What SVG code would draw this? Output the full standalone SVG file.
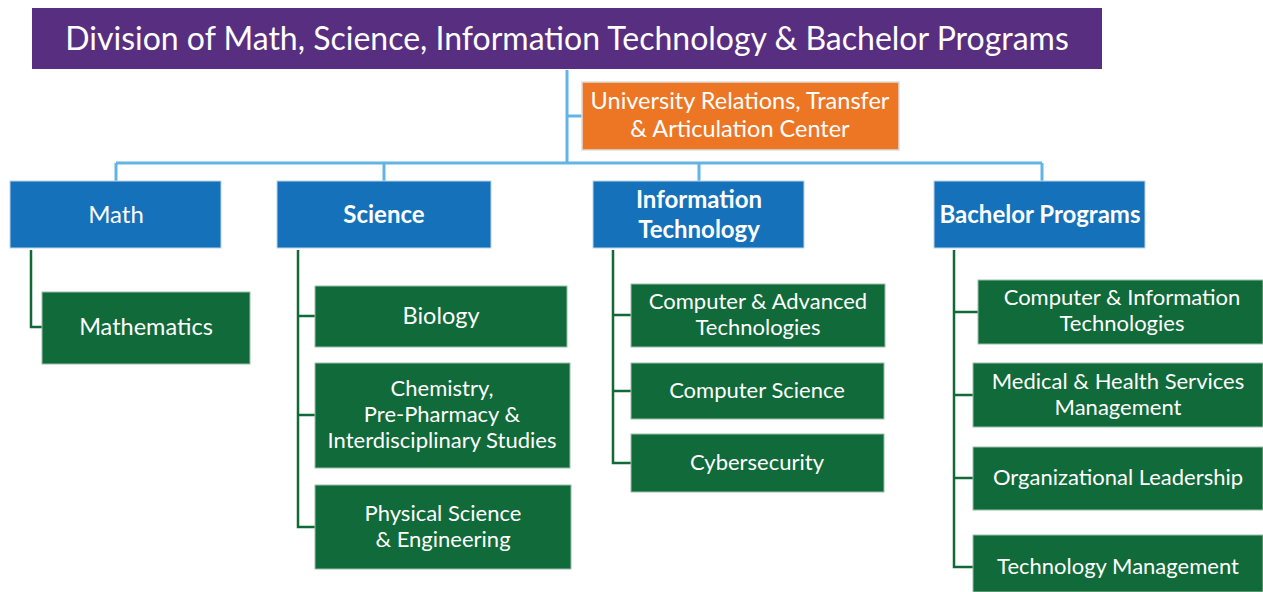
<svg xmlns="http://www.w3.org/2000/svg" width="1263" height="592" viewBox="0 0 1263 592">
<style>
text{font-family:Lato,"Open Sans","Liberation Sans",sans-serif;fill:#ffffff;text-anchor:middle}
.title{font-size:32px}
.org{font-size:23.5px}
.l2{font-size:24px}
.b{font-weight:bold}
.g{font-size:23.5px}
.gs{font-size:22px}
.blue{fill:#1571ba;stroke:#bcd6ee;stroke-width:1}
.green{fill:#106a39;stroke:#9bbfa9;stroke-width:1}
.cb{fill:none;stroke:#62b3e6;stroke-width:3}
.cg{fill:none;stroke:#0f6a37;stroke-width:2.5}
</style>
<rect width="1263" height="592" fill="#ffffff"/>
<g id="connectors">
<path class="cb" d="M567 70V163M567 116H582M116 163H1042M116 163V181M384 163V181M699 163V181M1042 163V181"/>
<path class="cg" d="M31 250V327H42"/>
<path class="cg" d="M298 250V527H315M298 316H315M298 415H315"/>
<path class="cg" d="M613 250V463H631M613 315H632M613 391H631"/>
<path class="cg" d="M954 250V567H973M954 312H978M954 395H973M954 478H973"/>
</g>
<g id="division">
<rect x="32" y="8" width="1070" height="61" fill="#582e80"/>
<text class="title" x="567" y="50">Division of Math, Science, Information Technology &amp; Bachelor Programs</text>
</g>
<g id="university-relations">
<rect x="582" y="82" width="317" height="68" fill="#ed7625" stroke="#dedede" stroke-width="1.5"/>
<text class="org" x="740" y="109">University Relations, Transfer</text>
<text class="org" x="740" y="137">&amp; Articulation Center</text>
</g>
<g id="math">
<rect class="blue" x="10" y="181" width="211" height="67"/>
<text class="l2" x="116" y="223">Math</text>
</g>
<g id="science">
<rect class="blue" x="277" y="181" width="214" height="67"/>
<text class="l2 b" x="384" y="223">Science</text>
</g>
<g id="information-technology">
<rect class="blue" x="593" y="181" width="211" height="67"/>
<text class="l2 b" x="699" y="208">Information</text>
<text class="l2 b" x="699" y="238">Technology</text>
</g>
<g id="bachelor-programs">
<rect class="blue" x="934" y="181" width="211" height="67"/>
<text class="l2 b" x="1040" y="223">Bachelor Programs</text>
</g>
<g id="mathematics">
<rect class="green" x="42" y="292" width="208" height="72"/>
<text class="g" x="146" y="335">Mathematics</text>
</g>
<g id="biology">
<rect class="green" x="315" y="286" width="252" height="61"/>
<text class="g" x="441" y="324">Biology</text>
</g>
<g id="chemistry">
<rect class="green" x="315" y="363" width="255" height="105"/>
<text class="gs" x="442" y="396">Chemistry,</text>
<text class="gs" x="442" y="422">Pre-Pharmacy &amp;</text>
<text class="gs" x="442" y="448">Interdisciplinary Studies</text>
</g>
<g id="physical-science">
<rect class="green" x="315" y="485" width="256" height="84"/>
<text class="gs" x="443" y="521">Physical Science</text>
<text class="gs" x="443" y="547">&amp; Engineering</text>
</g>
<g id="computer-advanced">
<rect class="green" x="631" y="284" width="254" height="63"/>
<text class="gs" x="758" y="309">Computer &amp; Advanced</text>
<text class="gs" x="758" y="335">Technologies</text>
</g>
<g id="computer-science">
<rect class="green" x="631" y="363" width="253" height="56"/>
<text class="gs" x="757" y="398">Computer Science</text>
</g>
<g id="cybersecurity">
<rect class="green" x="631" y="434" width="253" height="58"/>
<text class="gs" x="757" y="470">Cybersecurity</text>
</g>
<g id="computer-information">
<rect class="green" x="978" y="280" width="285" height="64"/>
<text class="gs" x="1122" y="305">Computer &amp; Information</text>
<text class="gs" x="1122" y="331">Technologies</text>
</g>
<g id="medical-health">
<rect class="green" x="973" y="363" width="290" height="64"/>
<text class="gs" x="1118" y="389">Medical &amp; Health Services</text>
<text class="gs" x="1118" y="415">Management</text>
</g>
<g id="organizational-leadership">
<rect class="green" x="973" y="447" width="290" height="63"/>
<text class="gs" x="1118" y="485">Organizational Leadership</text>
</g>
<g id="technology-management">
<rect class="green" x="973" y="535" width="290" height="57"/>
<text class="gs" x="1118" y="574">Technology Management</text>
</g>
</svg>
